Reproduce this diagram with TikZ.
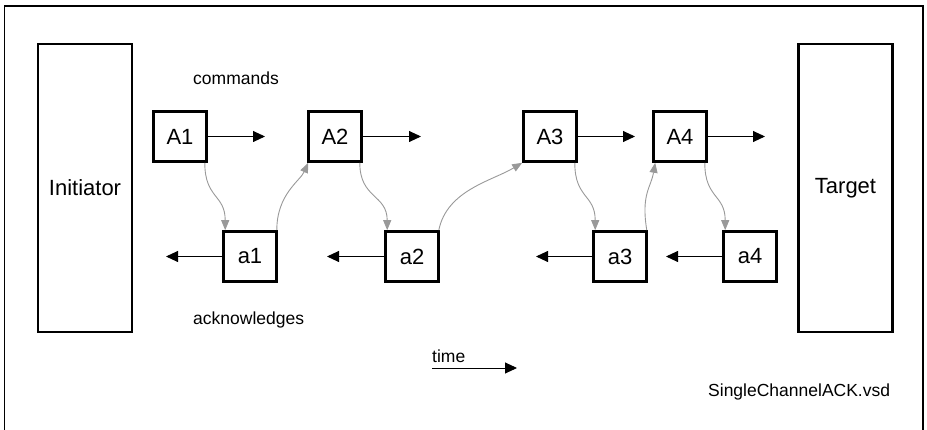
\documentclass[tikz,border=0pt]{standalone}
\usepackage{fontspec}
\setmainfont{Liberation Sans}
\usetikzlibrary{arrows.meta}
\begin{document}
\begin{tikzpicture}[x=1pt,y=-1pt,
  bigtext/.style={font=\fontsize{22}{26}\selectfont},
  smalltext/.style={font=\fontsize{17.5}{21}\selectfont, inner sep=0pt},
  msgbox/.style={draw, line width=2.6pt, minimum width=53pt, minimum height=50pt, inner sep=0pt, bigtext},
  endbox/.style={draw, line width=2.6pt, minimum width=94pt, minimum height=288pt, inner sep=0pt, bigtext},
  blackarrow/.style={draw, line width=0.9pt, -{Triangle[length=12pt,width=11pt]}},
  grayarrow/.style={draw, line width=0.9pt, color=black!40, -{Triangle[length=10pt,width=8pt]}}
]
\useasboundingbox (0,0) rectangle (927,430);
% frame
\draw[line width=1.4pt] (4.5,430) -- (4.5,6) -- (923,6) -- (923,430);
% end boxes
\node[endbox] (init) at (85,188) {Initiator};
\node[endbox] (targ) at (845.5,188) {Target};
% command boxes
\node[msgbox] (A1) at (180,136.5) {A1};
\node[msgbox] (A2) at (335,136.5) {A2};
\node[msgbox] (A3) at (550,136.5) {A3};
\node[msgbox] (A4) at (680,136.5) {A4};
% ack boxes
\node[msgbox] (a1) at (250,256.5) {a1};
\node[msgbox] (a2) at (412,256.5) {a2};
\node[msgbox] (a3) at (620,256.5) {a3};
\node[msgbox] (a4) at (750,256.5) {a4};
% free ends
\coordinate (A1e) at (265,136.5);
\coordinate (A2e) at (421,136.5);
\coordinate (A3e) at (635,136.5);
\coordinate (A4e) at (765,136.5);
\coordinate (a1e) at (166,256.5);
\coordinate (a2e) at (327,256.5);
\coordinate (a3e) at (536,256.5);
\coordinate (a4e) at (666,256.5);
\path[blackarrow] (A1.east) -- (A1e);
\path[blackarrow] (A2.east) -- (A2e);
\path[blackarrow] (A3.east) -- (A3e);
\path[blackarrow] (A4.east) -- (A4e);
\path[blackarrow] (a1.west) -- (a1e);
\path[blackarrow] (a2.west) -- (a2e);
\path[blackarrow] (a3.west) -- (a3e);
\path[blackarrow] (a4.west) -- (a4e);
% gray curves
\path[grayarrow] ([xshift=-3pt]A1.south east) .. controls +(0,36) and +(0,-36) .. ([xshift=3pt]a1.north west);
\path[grayarrow] ([xshift=-1pt]a1.north east) .. controls +(0,-36) and +(-8,18) .. ([xshift=1pt]A2.south west);
\path[grayarrow] ([xshift=-3pt]A2.south east) .. controls +(0,36) and +(0,-36) .. ([xshift=3pt]a2.north west);
\path[grayarrow] ([xshift=-1pt]a2.north east) .. controls +(8,-40) and +(-30,18) .. ([xshift=0pt]A3.south west);
\path[grayarrow] ([xshift=-3pt]A3.south east) .. controls +(0,36) and +(0,-36) .. ([xshift=3pt]a3.north west);
\path[grayarrow] ([xshift=-1pt]a3.north east) .. controls +(-6,-36) and +(-4,24) .. ([xshift=3pt]A4.south west);
\path[grayarrow] ([xshift=-3pt]A4.south east) .. controls +(0,36) and +(0,-36) .. ([xshift=3pt]a4.north west);
% labels
\node[smalltext, anchor=base west] (cmd) at (193,85) {commands};
\node[smalltext, anchor=base west] (ack) at (193,325) {acknowledges};
\node[smalltext, anchor=base west] (time) at (432,363) {time};
\coordinate (timeS) at (432,368);
\coordinate (timeE) at (517,368);
\path[blackarrow] (timeS) -- (timeE);
\node[smalltext, anchor=base west] (file) at (708,397) {SingleChannelACK.vsd};
\end{tikzpicture}
\end{document}
